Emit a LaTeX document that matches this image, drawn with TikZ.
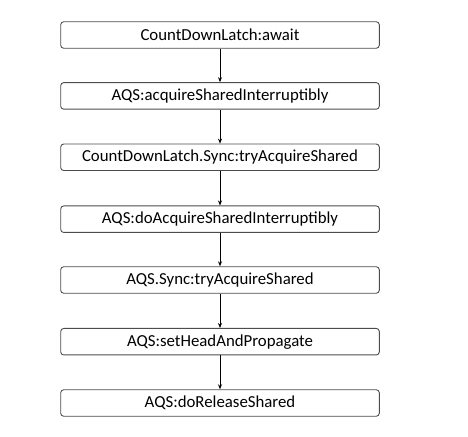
\documentclass[tikz,border=0pt]{standalone}
\usepackage{fontspec}
\setmainfont{Carlito}
\usetikzlibrary{arrows.meta}
\begin{document}
\begin{tikzpicture}[x=1pt,y=1pt,
  stepbox/.style={draw=black!70, line width=0.9pt, rounded corners=3pt, minimum width=318.6pt, minimum height=26.5pt, inner sep=0pt, font=\fontsize{16.8}{18}\selectfont},
  conn/.style={draw=black, line width=0.8pt, -{Stealth[length=5pt,width=4pt]}}]
\useasboundingbox (0,0) rectangle (468,436);
\node[stepbox] (n1) at (220,436-35) {CountDownLatch:await};
\node[stepbox] (n2) at (220,436-95.9) {AQS:acquireSharedInterruptibly};
\node[stepbox] (n3) at (220,436-157.3) {CountDownLatch.Sync:tryAcquireShared};
\node[stepbox] (n4) at (220,436-219.2) {AQS:doAcquireSharedInterruptibly};
\node[stepbox] (n5) at (220,436-280) {AQS.Sync:tryAcquireShared};
\node[stepbox] (n6) at (220,436-341.7) {AQS:setHeadAndPropagate};
\node[stepbox] (n7) at (220,436-403) {AQS:doReleaseShared};
\draw[conn] (n1) -- (n2);
\draw[conn] (n2) -- (n3);
\draw[conn] (n3) -- (n4);
\draw[conn] (n4) -- (n5);
\draw[conn] (n5) -- (n6);
\draw[conn] (n6) -- (n7);
\end{tikzpicture}
\end{document}
